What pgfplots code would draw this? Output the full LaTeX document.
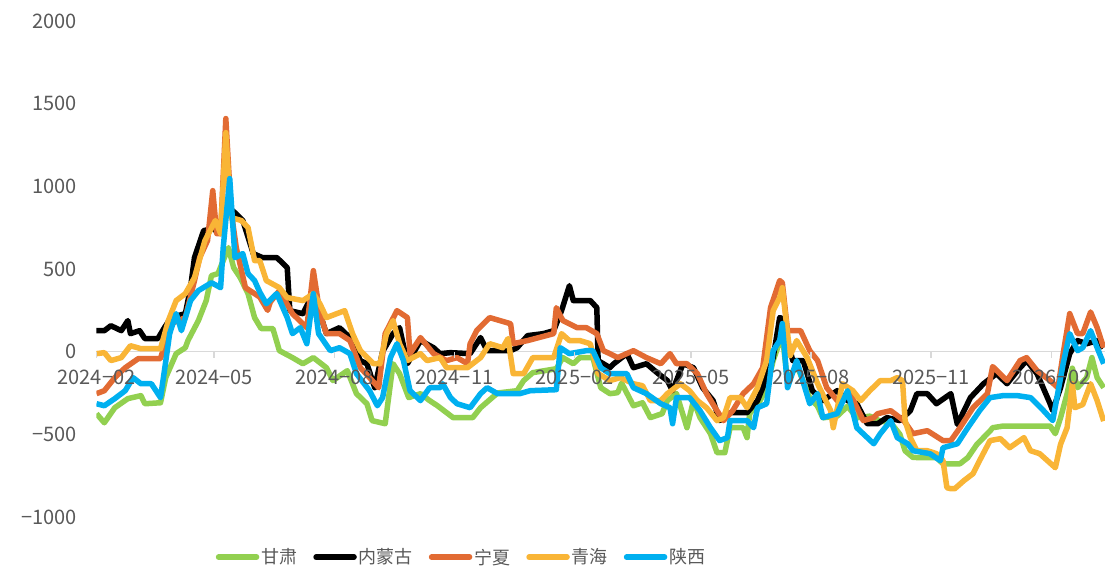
\documentclass[border=0pt]{standalone}
\usepackage{fontspec}
\setmainfont{Noto Sans CJK SC}
\usepackage{pgfplots}
\pgfplotsset{compat=1.18}
\definecolor{cgs}{HTML}{92D050}
\definecolor{cnm}{HTML}{000000}
\definecolor{cnx}{HTML}{E26B33}
\definecolor{cqh}{HTML}{F9B536}
\definecolor{csx}{HTML}{00B0F0}
\definecolor{zeroc}{HTML}{D9D9D9}
\definecolor{labc}{HTML}{595959}
\begin{document}
\begin{tikzpicture}[x=1pt,y=1pt]
\useasboundingbox (0,0) rectangle (1105,569);
\begin{axis}[
  axis on top,
  at={(96.5pt,52pt)}, anchor=south west,
  scale only axis, width=1008.5pt, height=496pt,
  xmin=0, xmax=772, ymin=-1000, ymax=2000,
  axis x line=middle, axis y line=left,
  hide obscured x ticks=false,
  y axis line style={draw=none},
  x axis line style={draw=none, -},
  xtick={0,90,182,274,366,455,547,639,731},
  xticklabels={2024−02,2024−05,2024−08,2024−11,2025−02,2025−05,2025−08,2025−11,2026−02},
  ytick={-1000,-500,0,500,1000,1500,2000},
  yticklabels={−1000,−500,0,500,1000,1500,2000},
  xtick align=outside, major tick length=6pt,
  xtick style={draw=zeroc, line width=1.5pt},
  ytick style={draw=none},
  tick label style={font=\fontsize{20}{24}\selectfont, text=labc},
  xticklabel style={yshift=-9pt},
  yticklabel style={anchor=east, xshift=-13pt},
  legend style={at={(0.362,-0.081)}, anchor=center, draw=none, fill=none,
    font=\fontsize{18}{22}\selectfont, text=labc,
    /tikz/every even column/.append style={column sep=14pt}},
  legend columns=5,
  legend image code/.code={\draw[#1, line width=5.5pt, line cap=round] (0pt,0pt) -- (38pt,0pt);},
  every axis plot/.append style={line width=5.5pt, line join=round, mark=none},
]
\draw[zeroc, line width=1.5pt] (axis cs:0,0) -- (axis cs:772,0);
\addplot[cgs] coordinates {
(0,-375)(6,-430)(14,-339)(24,-284)(34,-266)(37,-315)(49,-309)(53,-157)(61,-12)(68,24)(70,67)(78,188)(84,309)(88,460)(93,472)(97,551)(101,629)(105,508)(110,448)(116,351)(121,206)(126,140)(135,140)(140,6)(150,-36)(158,-73)(166,-36)(176,-97)(181,-175)(192,-115)(199,-254)(207,-315)(211,-417)(221,-436)(227,-73)(232,-133)(239,-278)(248,-254)(255,-296)(261,-327)(273,-399)(288,-399)(294,-339)(307,-250)(322,-236)(327,-175)(334,-127)(352,-103)(357,-36)(365,-73)(370,-36)(380,-36)(386,-218)(393,-254)(399,-248)(402,-190)(411,-327)(418,-309)(424,-399)(433,-375)(437,-296)(444,-254)(452,-460)(457,-296)(462,-399)(470,-496)(475,-611)(481,-611)(485,-460)(495,-460)(498,-520)(500,-375)(508,-296)(513,-218)(518,-54)(523,60)(525,100)(529,-180)(536,-80)(546,-280)(552,-330)(556,-400)(567,-390)(575,-330)(582,-400)(592,-390)(600,-420)(608,-430)(615,-500)(619,-600)(625,-640)(643,-641)(648,-678)(661,-678)(667,-641)(674,-560)(679,-520)(684,-480)(686,-460)(694,-450)(730,-450)(734,-496)(738,-400)(743,-254)(747,-100)(751,-218)(758,-157)(762,-36)(766,-157)(771,-218)
};
\addlegendentry{甘肃}
\addplot[cnm] coordinates {
(0,127)(6,127)(11,157)(19,127)(24,188)(26,109)(33,127)(37,79)(47,79)(52,145)(57,206)(68,230)(72,387)(75,569)(82,732)(89,744)(95,714)(100,880)(106,840)(112,793)(120,593)(127,569)(138,569)(143,532)(146,508)(148,248)(158,230)(163,309)(171,230)(176,109)(186,145)(194,85)(202,-54)(207,-73)(213,-218)(219,0)(227,109)(232,145)(238,-73)(248,67)(258,24)(263,-12)(271,-6)(286,-12)(294,85)(299,6)(317,6)(322,24)(330,97)(342,109)(350,127)(356,248)(362,399)(365,309)(370,309)(378,309)(383,266)(384,-54)(393,-97)(396,-73)(406,-12)(411,-97)(421,-73)(430,-133)(437,-175)(441,-236)(449,-73)(457,-97)(464,-218)(472,-296)(477,-417)(485,-369)(498,-369)(506,-296)(510,-218)(518,-36)(523,206)(525,200)(529,67)(533,-54)(541,-54)(548,-236)(556,-296)(567,-236)(575,-296)(582,-315)(590,-436)(598,-436)(605,-399)(615,-417)(623,-357)(628,-254)(636,-254)(643,-315)(654,-254)(659,-440)(669,-278)(679,-194)(689,-133)(697,-194)(705,-115)(712,-54)(720,-133)(730,-315)(732,-357)(738,-218)(745,-12)(751,67)(758,48)(766,67)(771,24)
};
\addlegendentry{内蒙古}
\addplot[cnx] coordinates {
(0,-254)(6,-236)(14,-157)(22,-97)(32,-42)(49,-42)(57,169)(68,206)(75,430)(79,569)(85,672)(89,974)(92,714)(95,714)(99,1410)(103,853)(107,629)(114,387)(121,351)(125,330)(131,250)(133,300)(140,369)(150,230)(161,145)(166,490)(171,230)(176,109)(186,109)(194,67)(202,-97)(209,-157)(216,-218)(221,109)(230,248)(238,206)(240,-12)(248,85)(258,-12)(268,-54)(276,-36)(284,-73)(286,48)(291,127)(301,206)(317,169)(319,48)(330,67)(350,109)(352,266)(357,188)(368,145)(375,145)(383,109)(388,6)(393,-12)(399,-36)(411,6)(421,-36)(432,-73)(439,-12)(444,-73)(452,-73)(460,-133)(467,-254)(475,-357)(480,-417)(487,-357)(495,-254)(503,-194)(510,-97)(516,266)(523,430)(525,417)(529,127)(539,127)(546,6)(552,-54)(559,-218)(567,-296)(577,-254)(587,-417)(595,-399)(598,-375)(608,-357)(618,-417)(625,-496)(636,-478)(648,-538)(654,-538)(661,-460)(671,-339)(682,-254)(686,-90)(697,-175)(707,-54)(712,-36)(720,-115)(730,-175)(736,-218)(740,-12)(745,230)(751,109)(755,109)(761,240)(766,145)(771,24)
};
\addlegendentry{宁夏}
\addplot[cqh] coordinates {
(0,-12)(6,-6)(11,-54)(19,-36)(26,36)(34,18)(49,18)(55,188)(61,309)(68,351)(75,448)(83,672)(91,793)(95,714)(99,1325)(103,811)(111,793)(116,750)(121,551)(125,551)(130,430)(140,387)(146,327)(158,309)(166,351)(171,290)(176,206)(184,230)(190,248)(196,109)(202,6)(212,-73)(217,-73)(222,109)(227,188)(232,48)(238,-54)(248,-12)(253,-54)(263,-36)(268,-97)(284,-97)(294,-36)(301,48)(311,24)(315,79)(319,-133)(327,-133)(334,-36)(350,-36)(356,109)(362,67)(370,67)(378,48)(384,-133)(393,-175)(401,-157)(411,-194)(418,-206)(424,-296)(432,-296)(437,-254)(447,-194)(454,-236)(460,-296)(467,-339)(475,-417)(480,-399)(485,-278)(493,-278)(498,-339)(506,-218)(513,-54)(518,248)(523,327)(525,387)(531,-24)(536,67)(544,-36)(552,-194)(562,-357)(564,-460)(571,-194)(579,-236)(585,-296)(592,-236)(600,-175)(608,-175)(613,-157)(617,-175)(619,-417)(623,-520)(628,-599)(636,-599)(643,-617)(648,-659)(651,-823)(654,-829)(657,-829)(664,-780)(671,-738)(676,-659)(684,-538)(692,-526)(699,-581)(710,-520)(715,-599)(722,-617)(734,-702)(738,-560)(743,-460)(747,-194)(749,-339)(755,-320)(761,-194)(766,-296)(771,-420)
};
\addlegendentry{青海}
\addplot[csx] coordinates {
(0,-315)(6,-327)(14,-284)(22,-236)(28,-157)(34,-194)(42,-194)(49,-278)(52,-115)(56,109)(61,230)(65,127)(72,309)(78,369)(88,417)(95,387)(97,629)(102,1047)(106,569)(112,593)(116,472)(121,430)(125,360)(130,290)(138,351)(146,206)(150,109)(156,145)(161,48)(166,351)(170,109)(179,6)(186,24)(194,-12)(199,-133)(209,-236)(215,-327)(219,-278)(225,-36)(230,48)(235,-54)(240,-236)(248,-296)(255,-218)(263,-218)(265,-194)(271,-278)(276,-315)(286,-339)(294,-254)(299,-218)(307,-254)(324,-254)(332,-236)(352,-230)(355,24)(362,-12)(375,6)(380,6)(386,-97)(393,-133)(406,-133)(411,-218)(421,-254)(432,-315)(439,-339)(441,-436)(444,-278)(454,-278)(462,-357)(470,-460)(477,-538)(483,-520)(485,-417)(498,-417)(503,-460)(506,-339)(513,-315)(518,6)(523,67)(525,170)(529,-218)(536,-54)(546,-315)(552,-254)(556,-399)(567,-375)(575,-236)(582,-460)(595,-557)(600,-496)(608,-417)(613,-520)(621,-557)(625,-599)(638,-617)(646,-659)(648,-581)(659,-557)(667,-460)(676,-357)(684,-278)(694,-266)(705,-266)(715,-278)(725,-357)(732,-417)(740,-73)(745,109)(751,6)(755,24)(761,127)(766,24)(771,-73)
};
\addlegendentry{陕西}
\end{axis}
\end{tikzpicture}
\end{document}
